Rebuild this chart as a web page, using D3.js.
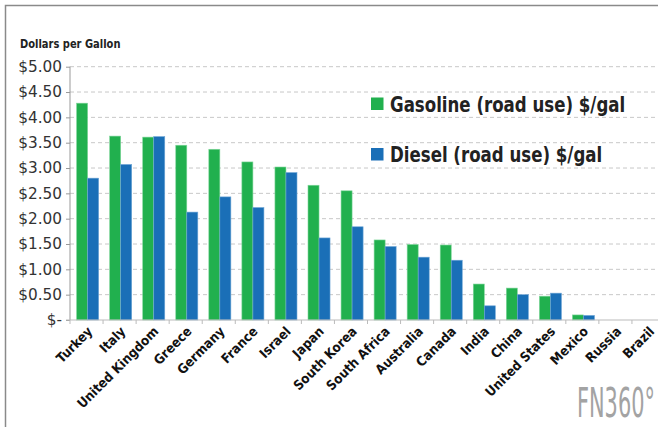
<!DOCTYPE html>
<html>
<head>
<meta charset="utf-8">
<script src="https://cdn.jsdelivr.net/npm/d3@7"></script>
<style>
  body { margin: 0; background: #fff; }
  svg { display: block; }
</style>
</head>
<body>
<svg id="canvas" width="658" height="427"></svg>
<script>
"use strict"

// Countries along the x axis
const countries = ["Turkey", "Italy", "United Kingdom", "Greece", "Germany", "France", "Israel",
    "Japan", "South Korea", "South Africa", "Australia", "Canada", "India", "China",
    "United States", "Mexico", "Russia", "Brazil"];

// Prices in dollars per gallon
const gasoline = [4.28, 3.63, 3.61, 3.45, 3.37, 3.12, 3.02, 2.66, 2.55, 1.58, 1.49, 1.48, 0.71, 0.63, 0.47, 0.10, 0, 0];
const diesel = [2.80, 3.07, 3.62, 2.13, 2.43, 2.22, 2.91, 1.62, 1.84, 1.45, 1.24, 1.18, 0.28, 0.50, 0.53, 0.09, 0, 0];

const seriesNames = ["Gasoline (road use) $/gal", "Diesel (road use) $/gal"];
const seriesColors = ["#21b04e", "#1a6fb7"];

// y tick values and their labels
const yTicks = [0, 0.5, 1, 1.5, 2, 2.5, 3, 3.5, 4, 4.5, 5];
const yTickLabels = ["$-", "$0.50", "$1.00", "$1.50", "$2.00", "$2.50", "$3.00", "$3.50", "$4.00", "$4.50", "$5.00"];

const condensed = "'DejaVu Sans Condensed', 'DejaVu Sans', sans-serif";

function drawChart() {
    let drawing = d3.select("#canvas");
    drawing.selectAll("*").remove();

    /* frame around the whole graphic (runs off right and bottom) */
    drawing.append("path")
        .attr("d", "M5.5,440 L5.5,5.5 L670,5.5")
        .attr("fill", "none")
        .attr("stroke", "#8a8a8a")
        .attr("stroke-width", 1.5);

    // plot area
    let left = 70, right = 665, top = 66.7, bottom = 320;

    let x = d3.scaleBand()
        .domain(countries)
        .range([left, right])
        .padding(0);

    let xSeries = d3.scaleBand()
        .domain([0, 1])
        .range([0, x.bandwidth()])
        .paddingOuter(0.5)
        .align(0.6);

    let y = d3.scaleLinear()
        .domain([0, 5])
        .range([bottom, top]);

    /* dashed gridlines */
    drawing.append("g")
        .selectAll("line")
        .data(yTicks.filter(d => d > 0))
        .join("line")
        .attr("x1", left)
        .attr("x2", 658)
        .attr("y1", d => y(d))
        .attr("y2", d => y(d))
        .attr("stroke", "#c8c8c8")
        .attr("stroke-width", 1)
        .attr("stroke-dasharray", "4,3");

    /* y axis */
    let yAxis = d3.axisLeft(y)
        .tickValues(yTicks)
        .tickFormat((d, i) => yTickLabels[i])
        .tickSize(4)
        .tickPadding(4);

    let yg = drawing.append("g")
        .attr("transform", "translate(" + left + ",0)")
        .call(yAxis);
    yg.select(".domain").attr("stroke", "#999").attr("d", "M0," + top + "V" + bottom);
    yg.selectAll(".tick line").attr("stroke", "#999");
    yg.selectAll(".tick text")
        .attr("fill", "#333")
        .attr("font-family", "'DejaVu Sans', sans-serif")
        .attr("font-size", 15.3);

    /* bars */
    let seriesData = [gasoline, diesel];
    seriesData.forEach(function (values, s) {
        drawing.append("g")
            .selectAll("rect")
            .data(values)
            .join("rect")
            .attr("x", (d, i) => x(countries[i]) + xSeries(s))
            .attr("y", d => y(d))
            .attr("width", xSeries.bandwidth())
            .attr("height", d => bottom - y(d))
            .attr("fill", seriesColors[s])
            .attr("stroke", s == 0 ? "#7fd69a" : "#6fa6d6")
            .attr("stroke-width", 0.6);
    });

    /* x axis */
    let xAxis = d3.axisBottom(x)
        .tickSize(0)
        .tickFormat("");

    let xg = drawing.append("g")
        .attr("transform", "translate(0," + bottom + ")")
        .call(xAxis);
    xg.select(".domain").attr("stroke", "#bbb").attr("d", "M" + (left - 4) + ",0H658");

    // ticks sit on the band boundaries
    xg.selectAll(".boundary")
        .data(countries)
        .join("line")
        .attr("class", "boundary")
        .attr("x1", d => x(d))
        .attr("x2", d => x(d))
        .attr("y1", 0)
        .attr("y2", 4)
        .attr("stroke", "#bbb");

    // rotated country labels
    drawing.append("g")
        .selectAll("text")
        .data(countries)
        .join("text")
        .attr("transform", d => "translate(" + (x(d) + x.bandwidth() / 2 + 3.5) + "," + (bottom + 9) + ") rotate(-45)")
        .attr("text-anchor", "end")
        .attr("dy", "0.35em")
        .attr("font-family", condensed)
        .attr("font-weight", "bold")
        .attr("font-size", 13.3)
        .attr("fill", "#111")
        .text(d => d);

    /* axis title */
    drawing.append("text")
        .attr("transform", "translate(20,47.5) scale(0.92,1)")
        .attr("font-family", condensed)
        .attr("font-weight", "bold")
        .attr("font-size", 12)
        .attr("fill", "#222")
        .text("Dollars per Gallon");

    /* legend */
    let legendY = [97.5, 148];
    seriesNames.forEach(function (name, s) {
        drawing.append("rect")
            .attr("x", 371)
            .attr("y", legendY[s])
            .attr("width", 12.5)
            .attr("height", 12.5)
            .attr("fill", seriesColors[s]);
        drawing.append("text")
            .attr("transform", "translate(390," + (legendY[s] + 14) + ") scale(0.84,1)")
            .attr("font-family", condensed)
            .attr("font-weight", "bold")
            .attr("font-size", 22)
            .attr("fill", "#222")
            .text(name);
    });

    /* FN360 logo text */
    drawing.append("text")
        .attr("transform", "translate(577,416.5) scale(0.58,1)")
        .attr("font-family", condensed)
        .attr("font-size", 40)
        .attr("fill", "#a3a3a3")
        .text("FN360°");
}

drawChart();
</script>
</body>
</html>
